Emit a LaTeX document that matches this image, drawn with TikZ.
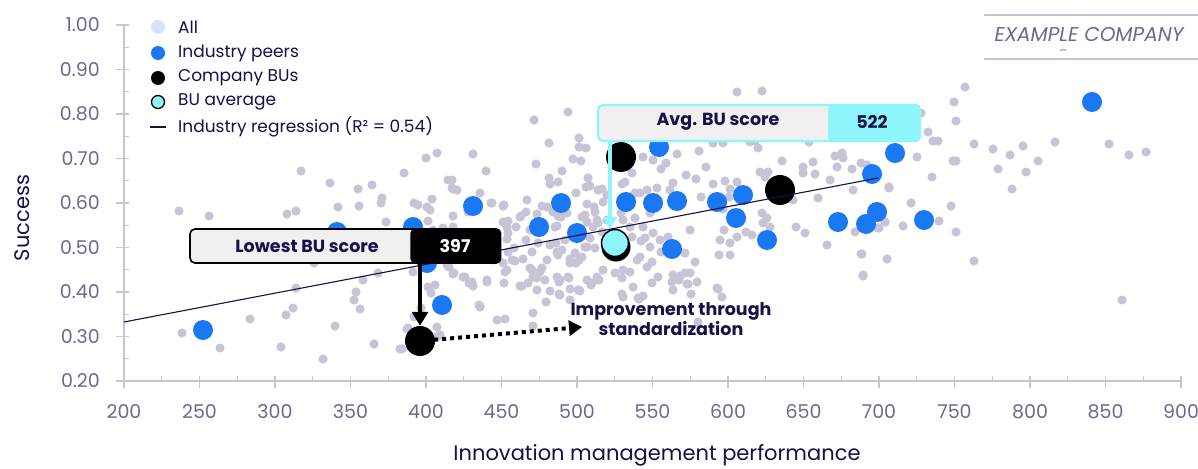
\documentclass[tikz,border=0pt]{standalone}
\usepackage{fontspec}
\setmainfont{Poppins}
\usetikzlibrary{arrows.meta}
\definecolor{dotgray}{RGB}{200,196,214}
\definecolor{peerblue}{RGB}{26,120,242}
\definecolor{avgcyan}{RGB}{142,245,253}
\definecolor{navy}{RGB}{24,16,72}
\definecolor{axisgray}{RGB}{200,196,214}
\definecolor{ticktext}{RGB}{110,104,144}
\definecolor{boxgray}{RGB}{240,240,240}
\definecolor{alllight}{RGB}{213,226,247}
\tikzset{
  axisline/.style={draw=axisgray, line width=1.2},
  ticklbl/.style={text=ticktext, font=\fontsize{19}{21}\selectfont, inner sep=0},
  legtext/.style={text=navy, font=\fontsize{17}{19}\selectfont, anchor=west, inner sep=0},
  legdot/.style={circle, minimum size=14, inner sep=0},
  graydot/.style={fill=dotgray},
  peer/.style={circle, fill=peerblue, minimum size=20, inner sep=0},
  budot/.style={circle, fill=black, minimum size=30, inner sep=0},
  calltext/.style={font=\bfseries\fontsize{17.5}{19}\selectfont, inner sep=0},
}
\begin{document}
\begin{tikzpicture}[x=1pt,y=-1pt]
\useasboundingbox[fill=white] (0,0) rectangle (1198,468);

% ---------- axes ----------
\draw[axisline] (124,25) -- (124,381) -- (1181,381);
\foreach \i in {0,...,14} {
  \draw[axisline] ({124+\i*75.5},376) -- ({124+\i*75.5},388);
  \pgfmathtruncatemacro\lab{200+50*\i}
  \node[ticklbl] (xl\i) at ({124+\i*75.5},412) {\lab};
}
\foreach \i in {0,...,13} {
  \draw[axisline] ({161.75+\i*75.5},376) -- ({161.75+\i*75.5},381);
}
\foreach \i/\t in {0/0.20,1/0.30,2/0.40,3/0.50,4/0.60,5/0.70,6/0.80,7/0.90,8/1.00} {
  \draw[axisline] (116,{381-\i*44.5}) -- (129,{381-\i*44.5});
  \node[ticklbl, anchor=east] (yl\i) at (100,{381-\i*44.5}) {\t};
}
\foreach \i in {0,...,7} {
  \draw[axisline] (124,{358.75-\i*44.5}) -- (129,{358.75-\i*44.5});
}
\node[text=navy, font=\fontsize{21}{23}\selectfont, rotate=90] (ytitle) at (22,218) {Success};
\node[text=navy, font=\fontsize{21}{23}\selectfont] (xtitle) at (657,455) {Innovation management performance};

% ---------- header ----------
\draw[axisline] (984,15) -- (1198,15);
\draw[axisline] (984,59) -- (1198,59);
\node[text=ticktext, font=\itshape\fontsize{20}{22}\selectfont] (company) at (1089,35) {EXAMPLE COMPANY};
\fill[dotgray] (1059,51) -- (1067,51) arc (0:180:4 and -2.5) -- cycle;

% ---------- legend ----------
\node[legdot, fill=alllight] (lgall) at (158,27) {};
\node[legtext] (lgallt) at (178,27) {All};
\node[legdot, fill=peerblue] (lgpeer) at (158,53) {};
\node[legtext] (lgpeert) at (178,53) {Industry peers};
\node[legdot, fill=black!92!navy] (lgbu) at (158,78) {};
\node[legtext] (lgbut) at (178,78) {Company BUs};
\node[legdot, fill=avgcyan, draw=black, line width=1.3, minimum size=13] (lgavg) at (158,102) {};
\node[legtext] (lgavgt) at (178,102) {BU average};
\coordinate (lgl1) at (150,127);
\coordinate (lgl2) at (166,127);
\draw[navy, line width=1.4] (lgl1) -- (lgl2);
\node[legtext] (lgregt) at (178,127) {Industry regression (R² = 0.54)};

% ---------- all companies ----------
\foreach \x/\y in {179/211,209/216,301/171,330/183,358/189,372/185,382/198,381/203,404/173,426/158,437/153,473/154,448/180,453/189,432/199,414/203,418/205,430/210,453/216,428/221,386/222,287/214,296/211,338/207,359/206,433/230,443/228,453/227,314/263,378/273,363/280,413/272,449/267,453/274,296/288,356/292,354/300,360/309,293/308,286/315,250/319,428/287,435/285,431/293,414/317,437/327,440/335,408/328,400/349,374/344,335/326,323/359,281/347,220/348,182/333,
491/203,503/206,527/200,521/216,503/222,508/221,547/207,558/216,567/213,585/215,587/204,595/212,587/222,598/223,508/233,530/230,555/227,585/247,595/248,532/252,557/252,515/261,542/268,570/259,582/257,576/263,493/260,508/252,505/272,447/265,469/283,463/277,473/286,487/282,520/286,528/283,537/290,545/280,560/280,569/278,578/290,592/283,560/295,546/302,533/313,505/319,497/320,533/326,480/306,438/336,421/308,407/329,402/349,427/207,
465/277,472/284,479/305,522/286,537/278,532/270,559/282,568/277,559/294,570/300,579/290,591/285,599/280,622/278,630/272,622/294,638/298,673/275,679/280,687/284,690/273,691/294,718/289,698/322,
568/112,534/120,737/92,486/171,549/143,536/164,579/138,579/147,586/148,573/159,581/161,562/171,549/178,550/184,558/182,588/178,586/187,576/193,602/189,607/195,625/182,632/173,622/184,627/167,643/157,653/160,661/169,666/163,677/154,699/151,706/167,713/143,723/143,686/175,696/179,673/183,670/190,647/190,640/193,657/188,635/193,701/197,713/184,725/181,730/189,737/182,723/209,729/197,724/230,720/240,730/243,737/237,719/255,730/255,746/232,690/230,685/253,695/262,685/273,680/276,717/288,673/290,647/267,637/260,645/238,653/233,660/240,668/237,661/252,650/247,641/241,632/237,643/227,630/227,623/220,635/218,621/213,597/220,593/227,607/220,582/217,598/190,594/207,603/202,590/186,650/213,602/232,590/238,587/247,575/253,579/260,570/263,562/250,558/255,556/243,565/240,557/226,561/217,553/212,542/206,537/214,526/212,520/217,516/227,504/205,492/203,480/193,457/190,468/212,455/232,467/237,507/227,507/239,526/240,538/243,550/245,493/251,485/243,475/247,512/260,523/259,530/268,540/272,547/260,557/277,
550/291,570/289,580/291,587/280,597/277,603/270,615/273,623/270,633/287,652/283,658/277,643/296,623/297,639/299,472/282,454/273,480/307,487/280,504/283,507/270,503/263,514/248,533/277,452/180,452/188,672/282,688/284,697/282,722/297,652/262,640/257,
762/91,758/148,782/161,760/172,768/172,765/177,803/167,813/162,815/174,803/173,835/156,842/153,843/158,837/167,852/169,861/163,867/165,830/180,818/198,853/190,889/187,793/200,796/227,805/233,762/213,767/218,763/223,770/227,752/235,827/245,855/232,885/222,878/228,861/254,887/259,863/275,755/141,750/142,809/142,
965/87,954/102,956/121,921/113,928/132,933/141,938/141,974/144,993/149,1010/155,1023/146,1055/142,1038/161,1026/172,998/169,1012/189,953/161,956/161,917/157,932/177,889/188,911/203,951/206,939/221,903/226,885/222,879/228,956/232,862/254,974/261,863/276,1109/144,1129/155,1146/152,1122/300}
  {\fill[graydot] (\x,\y) circle (4.6);}

% ---------- industry peers ----------
\foreach \x/\y [count=\k] in {203/330,337/232,413/227,427/263,442/305,473/206,539/227,561/203,577/233,626/202,653/203,677/201,672/249,659/147,717/202,736/218,743/195,767/240,838/222,866/224,877/212,872/174,895/153,924/220,1092/102}
  {\node[peer] (peer\k) at (\x,\y) {};}

% ---------- company BUs ----------
\node[budot] (bu1) at (420,341) {};
\node[budot] (bu2) at (621,157) {};
\node[budot] (bu3) at (780,190) {};
\node[budot, minimum size=29] (bu4) at (616,247) {};

% ---------- regression ----------
\coordinate (regA) at (124,322);
\coordinate (regB) at (878,178);
\draw[navy, line width=1.1] (regA) -- (regB);

% ---------- BU average ----------
\node[circle, fill=avgcyan, draw=black, line width=1.5, minimum size=27, inner sep=0] (buavg) at (615,243) {};

% ---------- lowest BU callout ----------
\node[draw=black, line width=1.6, fill=boxgray, rounded corners=5, minimum width=310, minimum height=34, inner sep=0] (lowbox) at (345,246) {};
\node[fill=black, rounded corners=5, minimum width=91, minimum height=35.6, inner sep=0, anchor=east] (lowval) at ([xshift=0.8]lowbox.east) {};
\node[calltext, text=navy] (lowlbl) at (307,246) {Lowest BU score};
\node[calltext, text=white] (lownum) at (455,246) {397};
\draw[line width=3.8, -{Triangle[length=14,width=16]}] (lowbox.south -| bu1) -- (bu1.north);

% ---------- improvement ----------
\coordinate (imp) at (582,327);
\draw[line width=4, dash pattern=on 4 off 4, -{Triangle[length=13,width=15]}, shorten <=-1] (bu1) -- (imp);
\node[calltext, text=navy, align=center, font=\bfseries\fontsize{17.5}{20}\selectfont] (imptext) at (671,319) {Improvement through\\standardization};

% ---------- average callout ----------
\node[draw=avgcyan, line width=2.2, fill=boxgray, rounded corners=5, minimum width=321, minimum height=36, inner sep=0] (avgbox) at (758.5,123) {};
\node[fill=avgcyan, rounded corners=5, minimum width=93, minimum height=38.2, inner sep=0, anchor=east] (avgval) at ([xshift=1.1]avgbox.east) {};
\node[calltext, text=navy] (avglbl) at (718,122) {Avg. BU score};
\node[calltext, text=navy] (avgnum) at (872,122) {522};
\coordinate (avgtip) at (610,229);
\draw[avgcyan, line width=3.2, -{Triangle[length=12,width=14]}] (avgbox.south -| avgtip) -- (avgtip);
\end{tikzpicture}
\end{document}
